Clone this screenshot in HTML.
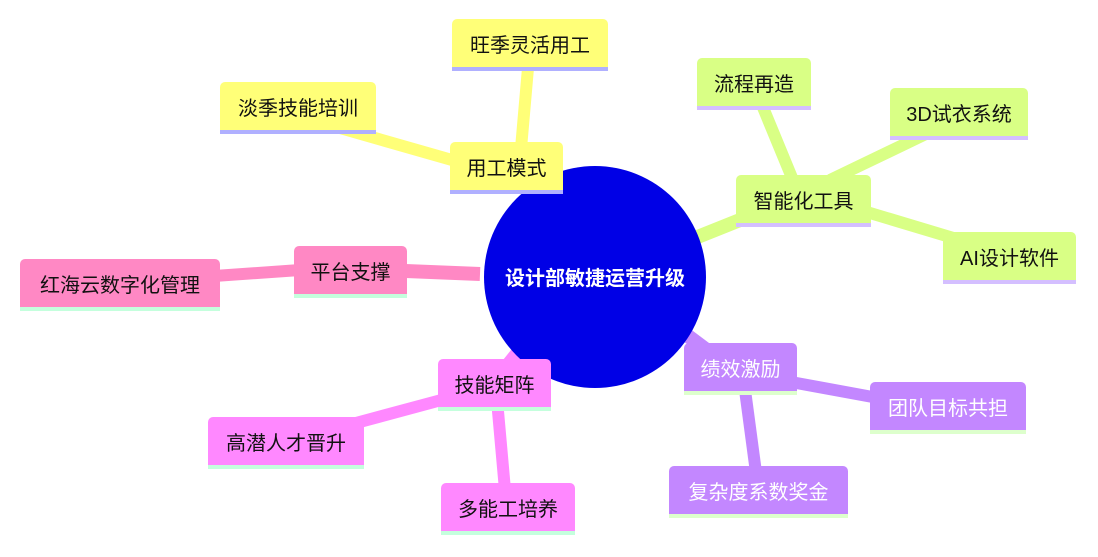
<!DOCTYPE html>
<html><head><meta charset="utf-8"><style>
body{margin:0;width:1098px;height:557px;background:#fff;position:relative;overflow:hidden;font-family:"Liberation Sans","Noto Sans CJK SC",sans-serif}
.n{position:absolute;box-sizing:border-box;border-radius:5px 5px 0 0;font-size:20px;display:flex;align-items:center;justify-content:center;color:#111}
.y{background:#ffff78;border-bottom:4px solid #b0b0ff}
.g{background:#d9ff85;border-bottom:4px solid #d4bfff}
.p{background:#c387ff;border-bottom:4px solid #ddffcc;color:#fff}
.k{background:#ff88c4;border-bottom:4px solid #c4ffdd}
.m{background:#ff88ff;border-bottom:4px solid #c4ffdd}
svg{position:absolute;left:0;top:0}
</style></head><body>
<svg width="1098" height="557">
<g stroke-linecap="butt">
<line x1="520" y1="160" x2="528" y2="68" stroke="#ffff78" stroke-width="12"/>
<line x1="480" y1="168" x2="340" y2="128" stroke="#ffff78" stroke-width="12"/>
<line x1="560" y1="200" x2="500" y2="168" stroke="#ffff78" stroke-width="14"/>
<line x1="795" y1="185" x2="762" y2="105" stroke="#d9ff85" stroke-width="12"/>
<line x1="830" y1="180" x2="930" y2="132" stroke="#d9ff85" stroke-width="12"/>
<line x1="860" y1="210" x2="960" y2="240" stroke="#d9ff85" stroke-width="12"/>
<line x1="690" y1="240" x2="760" y2="212" stroke="#d9ff85" stroke-width="14"/>
<line x1="780" y1="380" x2="900" y2="402" stroke="#c387ff" stroke-width="12"/>
<line x1="745" y1="390" x2="757" y2="480" stroke="#c387ff" stroke-width="12"/>
<line x1="680" y1="330" x2="720" y2="360" stroke="#c387ff" stroke-width="14"/>
<line x1="480" y1="274" x2="380" y2="270" stroke="#ff88c4" stroke-width="14"/>
<line x1="300" y1="270" x2="200" y2="277" stroke="#ff88c4" stroke-width="12"/>
<line x1="520" y1="350" x2="500" y2="375" stroke="#ff88ff" stroke-width="14"/>
<line x1="460" y1="395" x2="330" y2="430" stroke="#ff88ff" stroke-width="12"/>
<line x1="497" y1="400" x2="505" y2="490" stroke="#ff88ff" stroke-width="12"/>
</g>
<circle cx="595" cy="277" r="111" fill="#0000e6"/>
<text x="595" y="285" fill="#fff" font-size="20" font-weight="bold" text-anchor="middle" font-family="Liberation Sans,Noto Sans CJK SC,sans-serif">设计部敏捷运营升级</text>
</svg>
<div class="n y" style="left:452px;top:19px;width:156px;height:52px">旺季灵活用工</div>
<div class="n y" style="left:220px;top:82px;width:156px;height:52px">淡季技能培训</div>
<div class="n y" style="left:450px;top:142px;width:113px;height:52px">用工模式</div>
<div class="n g" style="left:697px;top:58px;width:114px;height:52px">流程再造</div>
<div class="n g" style="left:890px;top:88px;width:138px;height:52px">3D试衣系统</div>
<div class="n g" style="left:736px;top:175px;width:135px;height:52px">智能化工具</div>
<div class="n g" style="left:943px;top:232px;width:133px;height:52px">AI设计软件</div>
<div class="n p" style="left:684px;top:343px;width:113px;height:52px">绩效激励</div>
<div class="n p" style="left:870px;top:382px;width:156px;height:52px">团队目标共担</div>
<div class="n p" style="left:669px;top:466px;width:179px;height:52px">复杂度系数奖金</div>
<div class="n k" style="left:294px;top:246px;width:113px;height:52px">平台支撑</div>
<div class="n k" style="left:20px;top:259px;width:200px;height:52px">红海云数字化管理</div>
<div class="n m" style="left:438px;top:359px;width:113px;height:52px">技能矩阵</div>
<div class="n m" style="left:208px;top:417px;width:156px;height:52px">高潜人才晋升</div>
<div class="n m" style="left:441px;top:483px;width:134px;height:52px">多能工培养</div>
</body></html>
